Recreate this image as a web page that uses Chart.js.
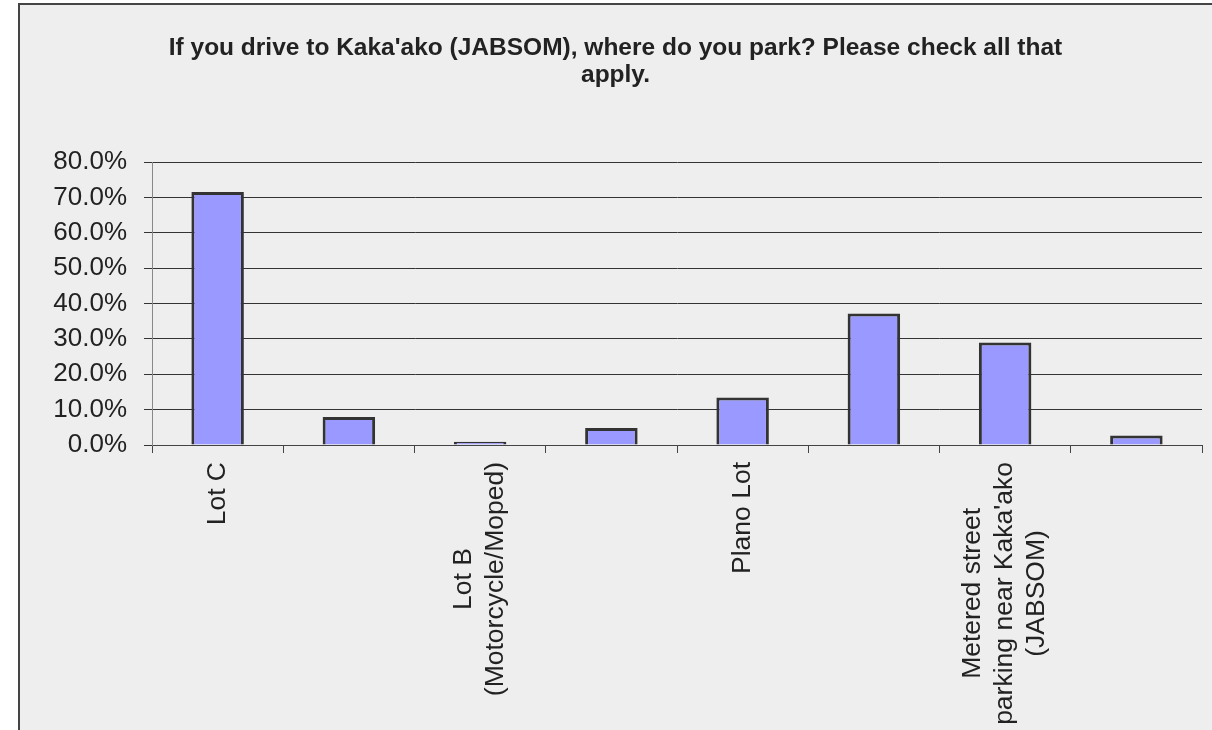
<!DOCTYPE html>
<html>
<head>
<meta charset="utf-8">
<title>Parking at Kaka'ako</title>
<script src="https://cdn.jsdelivr.net/npm/chart.js@4"></script>
<style>
    html, body { margin: 0; padding: 0; background: #ffffff; }
    #myChart { display: block; }
</style>
</head>
<body>
<canvas id="myChart" width="1212" height="730"></canvas>
<script>
// 1. Data
const categories = [
    'Lot C',
    '',
    ['Lot B', '(Motorcycle/Moped)'],
    '',
    'Plano Lot',
    '',
    ['Metered street', "parking near Kaka'ako", '(JABSOM)'],
    ''
];
const percents = [71.5, 7.9, 0.9, 4.8, 13.4, 37.2, 29.0, 2.7];
const yTicks = [0, 10, 20, 30, 40, 50, 60, 70, 80];
const titleLines = ["If you drive to Kaka'ako (JABSOM), where do you park? Please check all that", 'apply.'];

const textColor = '#222222';
const labelFont = "26.5px 'Liberation Sans', Arial, sans-serif";
const titleFont = "bold 24.5px 'Liberation Sans', Arial, sans-serif";

// 2. Grey panel with a dark frame (like the spreadsheet export)
const framePlugin = {
    id: 'frame',
    beforeDraw(chart) {
        const ctx = chart.ctx;
        ctx.save();
        ctx.fillStyle = '#ffffff';
        ctx.fillRect(0, 0, chart.width, chart.height);
        ctx.fillStyle = '#eeeeee';
        ctx.fillRect(19, 4, chart.width - 19, chart.height - 4);
        ctx.strokeStyle = '#444444';
        ctx.lineWidth = 2;
        ctx.beginPath();
        ctx.moveTo(19, chart.height);
        ctx.lineTo(19, 4);
        ctx.lineTo(chart.width, 4);
        ctx.stroke();
        ctx.restore();
    }
};

// 3. Title, centred on the grey panel rather than the canvas
const titlePlugin = {
    id: 'panelTitle',
    afterDraw(chart) {
        const ctx = chart.ctx;
        const cx = (19 + chart.width) / 2;
        ctx.save();
        ctx.font = titleFont;
        ctx.fillStyle = textColor;
        ctx.textAlign = 'center';
        ctx.textBaseline = 'middle';
        titleLines.forEach((line, i) => ctx.fillText(line, cx, 48 + i * 27));
        ctx.restore();
    }
};

// 4. Category labels: rotated, lines centred on each other
const xLabelPlugin = {
    id: 'xLabels',
    afterDraw(chart) {
        const ctx = chart.ctx;
        const xScale = chart.scales.x;
        const top = xScale.top + 17;
        const lineGap = 32;
        ctx.save();
        ctx.font = labelFont;
        ctx.fillStyle = textColor;
        ctx.textAlign = 'center';
        ctx.textBaseline = 'middle';
        categories.forEach((label, i) => {
            const lines = Array.isArray(label) ? label : [label];
            if (!lines.join('')) return;
            const widest = Math.max(...lines.map(l => ctx.measureText(l).width));
            const cx = xScale.getPixelForValue(i);
            lines.forEach((line, j) => {
                const off = (j - (lines.length - 1) / 2) * lineGap;
                ctx.save();
                ctx.translate(cx + off, top + widest / 2);
                ctx.rotate(-Math.PI / 2);
                ctx.fillText(line, 0, 0);
                ctx.restore();
            });
        });
        ctx.restore();
    }
};

// 5. Chart
const ctx = document.getElementById('myChart').getContext('2d');
const myChart = new Chart(ctx, {
    type: 'bar',
    data: {
        labels: categories,
        datasets: [{
            data: percents,
            backgroundColor: '#9999ff',
            borderColor: '#333333',
            borderWidth: 3,
            barPercentage: 0.4,
            categoryPercentage: 1.0
        }]
    },
    options: {
        responsive: false,
        animation: false,
        layout: { padding: { left: 0, right: 10, top: 162, bottom: 0 } },
        plugins: {
            legend: { display: false },
            tooltip: { enabled: false },
            title: { display: false }
        },
        scales: {
            x: {
                offset: true,
                grid: {
                    offset: true,
                    drawOnChartArea: false,
                    drawTicks: true,
                    tickLength: 8,
                    color: '#444444'
                },
                border: { display: true, color: '#444444', width: 1 },
                ticks: { display: false },
                afterFit(scale) { scale.height = 285; }
            },
            y: {
                min: 0,
                max: 80,
                afterBuildTicks(scale) { scale.ticks = yTicks.map(v => ({ value: v })); },
                grid: {
                    color: '#333333',
                    lineWidth: 1,
                    drawTicks: true,
                    tickLength: 8,
                    tickColor: '#333333'
                },
                border: { display: true, color: '#888888', width: 1 },
                ticks: {
                    color: textColor,
                    padding: 17,
                    font: { family: "'Liberation Sans', Arial, sans-serif", size: 26 },
                    callback: v => v.toFixed(1) + '%'
                },
                afterFit(scale) { scale.width = 152; }
            }
        }
    },
    plugins: [framePlugin, titlePlugin, xLabelPlugin]
});
</script>
</body>
</html>
